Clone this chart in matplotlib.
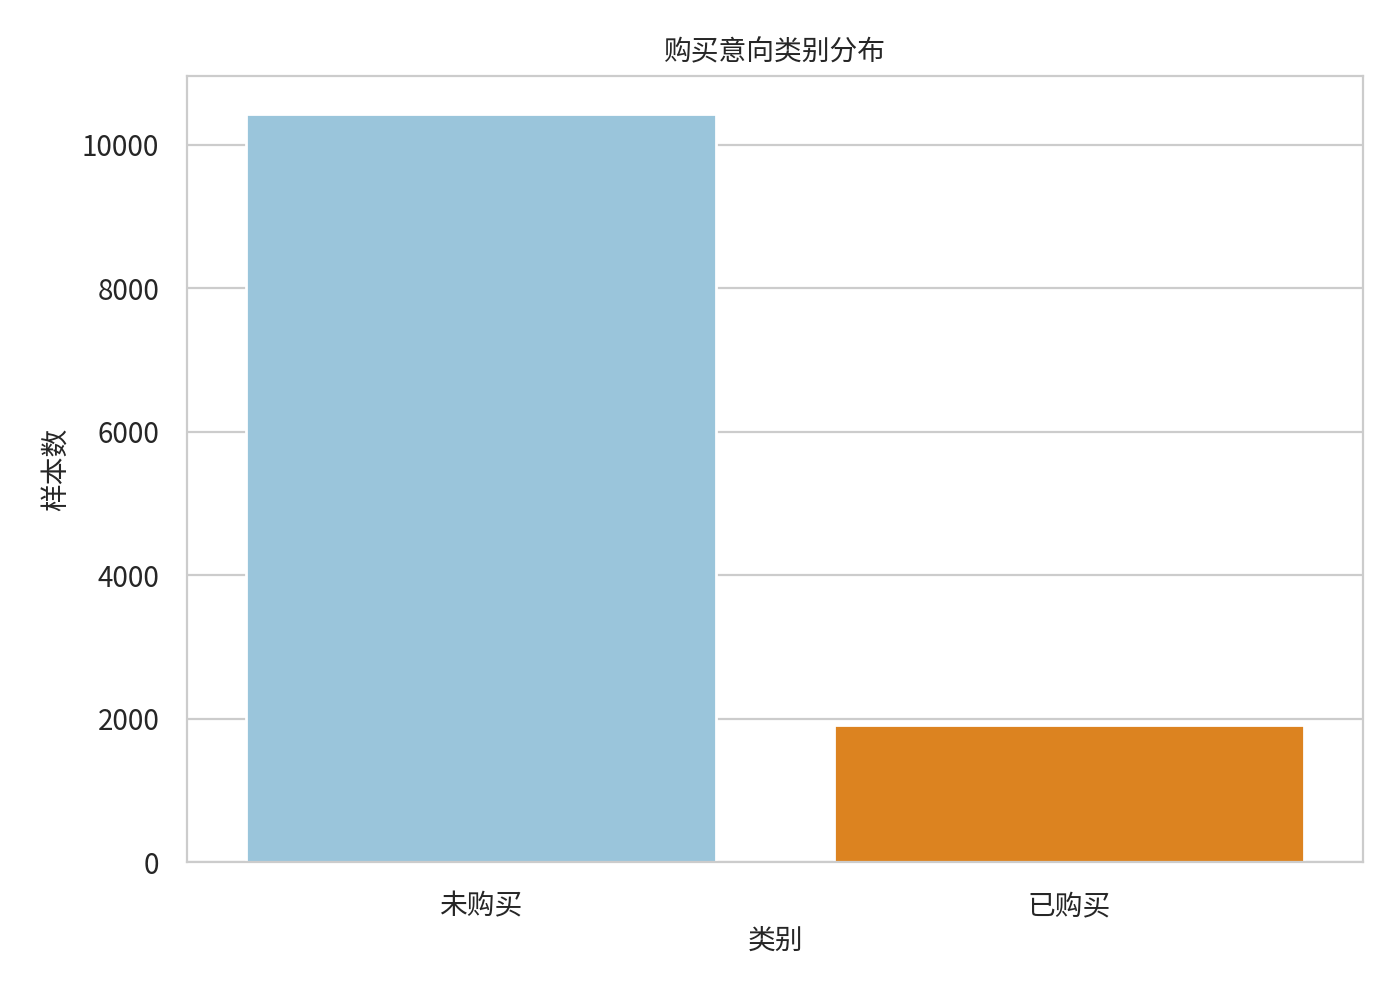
import matplotlib
matplotlib.use("Agg")
import matplotlib.pyplot as plt
import seaborn as sns

categories = ["未购买", "已购买"]
counts = [10430, 1910]
bar_colors = ["#9ac5db", "#dc8320"]

sns.set_style("whitegrid")
plt.rcParams['font.family'] = ['Noto Sans CJK SC', 'DejaVu Sans']
plt.rcParams['axes.unicode_minus'] = False

fig = plt.figure(figsize=(7, 5), dpi=200)
ax = fig.add_axes([0.1336, 0.138, 0.84, 0.786])
x = list(range(len(categories)))
ax.bar(x, counts, width=0.8, color=bar_colors, edgecolor="white", linewidth=1.0, zorder=2)
ax.set_xticks(x)
ax.set_xticklabels(categories, fontsize=10)
ax.set_xlim(-0.5, 1.5)
ax.set_ylim(0, 10962)
ax.set_yticks([0, 2000, 4000, 6000, 8000, 10000])
ax.tick_params(axis='y', labelsize=10, pad=6.5)
ax.tick_params(axis='x', pad=7.0)
ax.grid(axis='x', visible=False)
ax.set_axisbelow(True)
ax.set_xlabel("类别", fontsize=10, labelpad=1.8)
ax.set_ylabel("样本数", fontsize=10)
ax.set_title("购买意向类别分布", fontsize=10, pad=5.5)
for s in ax.spines.values():
    s.set_color("#cccccc")

fig.savefig("out.png", dpi=200)
